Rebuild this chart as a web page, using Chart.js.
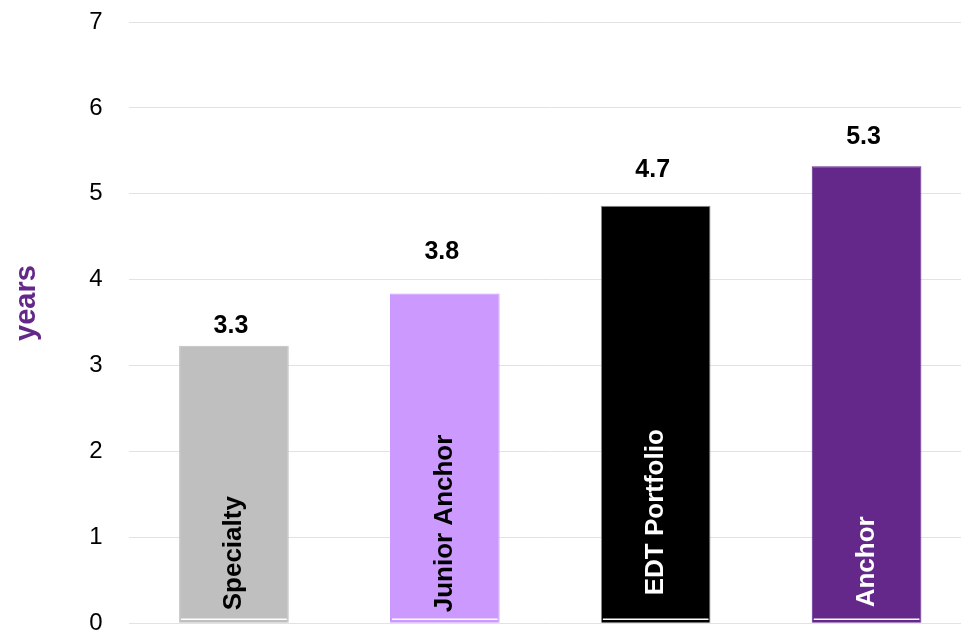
<!DOCTYPE html>
<html>
<head>
<meta charset="utf-8">
<script src="https://cdn.jsdelivr.net/npm/chart.js@4.4.0/dist/chart.umd.min.js"></script>
<style>
  html, body { margin: 0; padding: 0; background: #ffffff; overflow: hidden; }
  canvas { display: block; }
</style>
</head>
<body>
<canvas id="c" width="972" height="632" style="width:972px;height:632px"></canvas>
<script>
// ---- data ----
const categories = ['Specialty', 'Junior Anchor', 'EDT Portfolio', 'Anchor'];
const barValues = [3.23, 3.84, 4.86, 5.32];
const labelValues = [3.3, 3.8, 4.7, 5.3];
const yTicks = [0, 1, 2, 3, 4, 5, 6, 7];
const axisTitle = 'years';

// ---- styles ----
const barColors = ['#bfbfbf', '#cc99ff', '#000000', '#63288a'];
const barBorders = ['#bfbfbf', '#cc99ff', '#8c8c8c', '#63288a'];
const catTextColors = ['#000000', '#000000', '#ffffff', '#ffffff'];
const labelGaps = [13, 34, 29, 22];
const catBottoms = [13, 11, 28, 16];

const overlay = {
  id: 'overlay',
  afterDatasetsDraw(chart) {
    const ctx = chart.ctx;
    const meta = chart.getDatasetMeta(0);
    const y0 = chart.scales.y.getPixelForValue(0);
    ctx.save();
    meta.data.forEach((bar, i) => {
      const half = bar.width / 2;
      ctx.strokeStyle = '#ffffff';
      ctx.lineWidth = 1.5;
      ctx.beginPath();
      ctx.moveTo(bar.x - half + 2, y0 - 4);
      ctx.lineTo(bar.x + half - 2, y0 - 4);
      ctx.stroke();
      ctx.fillStyle = '#000000';
      ctx.font = 'bold 25px "Liberation Sans", Arial, sans-serif';
      ctx.textAlign = 'center';
      ctx.textBaseline = 'alphabetic';
      ctx.fillText(labelValues[i].toFixed(1), bar.x - 3, bar.y - labelGaps[i]);
      ctx.save();
      ctx.translate(bar.x, y0 - catBottoms[i]);
      ctx.rotate(-Math.PI / 2);
      ctx.fillStyle = catTextColors[i];
      ctx.font = 'bold 26px "Liberation Sans", Arial, sans-serif';
      ctx.textAlign = 'left';
      ctx.textBaseline = 'middle';
      ctx.fillText(categories[i], 0, 0);
      ctx.restore();
    });
    ctx.save();
    ctx.translate(27, 303);
    ctx.rotate(-Math.PI / 2);
    ctx.fillStyle = '#63288a';
    ctx.font = 'bold 29px "Liberation Sans", Arial, sans-serif';
    ctx.textAlign = 'center';
    ctx.textBaseline = 'middle';
    ctx.fillText(axisTitle, 0, 0);
    ctx.restore();
    ctx.restore();
  }
};

new Chart(document.getElementById('c'), {
  type: 'bar',
  data: {
    labels: categories,
    datasets: [{
      data: barValues,
      backgroundColor: barColors,
      borderColor: barBorders,
      borderWidth: 1,
      barPercentage: 0.52,
      categoryPercentage: 1.0
    }]
  },
  options: {
    responsive: false,
    maintainAspectRatio: false,
    animation: false,
    devicePixelRatio: 1,
    layout: { padding: { top: 22, bottom: 8.7, left: 0, right: 0 } },
    plugins: { legend: { display: false }, tooltip: { enabled: false } },
    scales: {
      x: {
        display: false,
        offset: true,
        grid: { display: false }
      },
      y: {
        min: 0,
        max: 7,
        afterFit(scale) {
          scale.width = 128.5;
          scale.paddingTop = 0;
          scale.paddingBottom = 0;
        },
        afterBuildTicks(scale) { scale.ticks = yTicks.map(v => ({ value: v })); },
        border: { display: false },
        grid: { color: '#e2e2e2', lineWidth: 1, drawTicks: false },
        ticks: {
          padding: 26,
          color: '#000000',
          font: { family: '"Liberation Sans", Arial, sans-serif', size: 24, lineHeight: 1.2 },
          autoSkip: false
        }
      }
    }
  },
  plugins: [overlay]
});
</script>
</body>
</html>
